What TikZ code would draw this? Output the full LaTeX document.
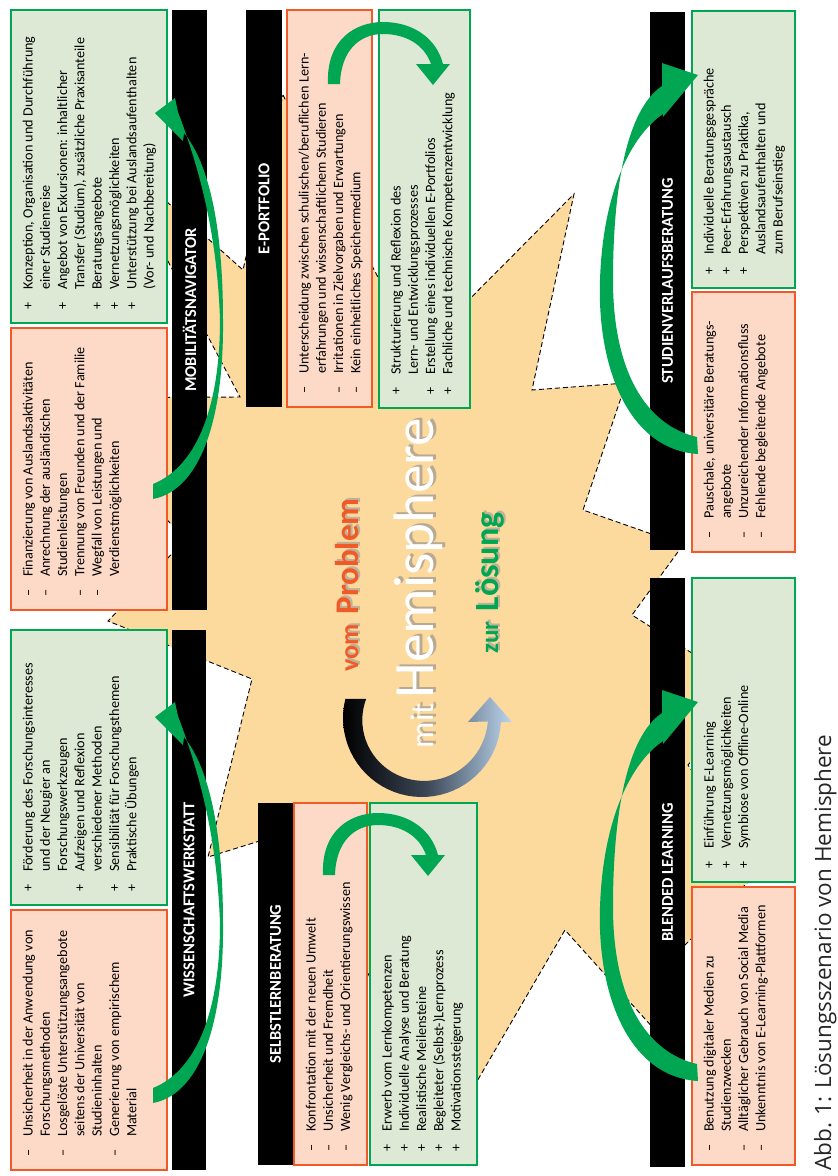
\documentclass[tikz,border=0pt]{standalone}
\usepackage{fontspec}
\setmainfont{Carlito}
\newfontfamily\capfont{Open Sans}

\definecolor{gruen}{RGB}{0,166,81}
\definecolor{gruenhell}{RGB}{221,233,213}
\definecolor{rot}{RGB}{240,90,40}
\definecolor{rothell}{RGB}{252,218,199}
\definecolor{sternfill}{RGB}{252,217,157}
\definecolor{pfeilblau}{RGB}{188,214,238}

% Listenpunkte in den Kaesten
\newcommand{\pitem}[1]{\makebox[20pt][l]{+}#1\\}
\newcommand{\mitem}[1]{\makebox[20pt][l]{--}#1\\}
\newcommand{\citem}[1]{\hspace*{20pt}#1\\}
\newcommand{\boxsize}{\fontsize{14.2}{17.3}\selectfont}

\begin{document}
\begin{tikzpicture}[x=1pt, y=-1pt,
  greenbox/.style={draw=gruen, fill=gruenhell, line width=2pt},
  redbox/.style={draw=rot, fill=rothell, line width=2pt},
  headbox/.style={fill=black},
  boxtext/.style={rotate=90, anchor=base west, inner sep=0pt, font=\boxsize},
  headtext/.style={rotate=90, text=white, inner sep=0pt, font=\fontsize{16.5}{16.5}\selectfont\bfseries},
  pfeil/.style={fill=gruen}]
\useasboundingbox (0,0) rectangle (838,1176);

% Stern im Hintergrund
\filldraw[fill=sternfill, draw=black, line width=0.9pt, dash pattern=on 5pt off 3pt]
  (283,95) -- (417,352) -- (574,194) -- (532,390) -- (626,383) -- (583,510)
  -- (683,545) -- (632,615) -- (750,690) -- (688,765) -- (760,870) -- (670,960)
  -- (655,1030) -- (565,930) -- (437,1150) -- (380,950) -- (300,1120) -- (295,830)
  -- (208,857) -- (252,679) -- (108,621) -- (185,540) -- (60,398) -- (240,397)
  -- (109,150) -- (243,270) -- cycle;

% Mobilitaetsnavigator
\draw[greenbox] (11,10) rectangle (167,323);
\draw[redbox] (11,328) rectangle (167,610);
\fill[headbox] (172,10) rectangle (207,610);
\node[headtext] (mhead) at (189.5,310) {MOBILITÄTSNAVIGATOR};
\node[boxtext] (mgtext) at (32.5,310) {\begin{tabular}[t]{@{}l@{}}
  \pitem{Konzeption, Organisation und Durchführung}
  \citem{einer Studienreise}
  \pitem{Angebot von Exkursionen: inhaltlicher}
  \citem{Transfer (Studium), zusätzliche Praxisanteile}
  \pitem{Beratungsangebote}
  \pitem{Vernetzungsmöglichkeiten}
  \pitem{Unterstützung bei Auslandsaufenthalten}
  \citem{(Vor- und Nachbereitung)}
\end{tabular}};
\node[boxtext] (mrtext) at (32.5,597) {\begin{tabular}[t]{@{}l@{}}
  \mitem{Finanzierung von Auslandsaktivitäten}
  \mitem{Anrechnung der ausländischen}
  \citem{Studienleistungen}
  \mitem{Trennung von Freunden und der Familie}
  \mitem{Wegfall von Leistungen und}
  \citem{Verdienstmöglichkeiten}
\end{tabular}};

% Wissenschaftswerkstatt
\draw[greenbox] (11,630) rectangle (167,905);
\draw[redbox] (11,910) rectangle (167,1170);
\fill[headbox] (172,630) rectangle (206,1170);
\node[headtext] (whead) at (189,900) {WISSENSCHAFTSWERKSTATT};
\node[boxtext] (wgtext) at (32.5,892) {\begin{tabular}[t]{@{}l@{}}
  \pitem{Förderung des Forschungsinteresses}
  \citem{und der Neugier an}
  \citem{Forschungswerkzeugen}
  \pitem{Aufzeigen und Reflexion}
  \citem{verschiedener Methoden}
  \pitem{Sensibilität für Forschungsthemen}
  \pitem{Praktische Übungen}
\end{tabular}};
\node[boxtext] (wrtext) at (32.5,1157) {\begin{tabular}[t]{@{}l@{}}
  \mitem{Unsicherheit in der Anwendung von}
  \citem{Forschungsmethoden}
  \mitem{Losgelöste Unterstützungsangebote}
  \citem{seitens der Universität von}
  \citem{Studieninhalten}
  \mitem{Generierung von empirischem}
  \citem{Material}
\end{tabular}};

% E-Portfolio
\fill[headbox] (246,10) rectangle (282,407);
\draw[redbox] (287,10) rectangle (372,407);
\draw[greenbox] (379,10) rectangle (470,408);
\node[headtext] (ehead) at (264,208.5) {E-PORTFOLIO};
\node[boxtext] (ertext) at (308.5,394) {\begin{tabular}[t]{@{}l@{}}
  \mitem{Unterscheidung zwischen schulischen/beruflichen Lern-}
  \citem{erfahrungen und wissenschaftlichem Studieren}
  \mitem{Irritationen in Zielvorgaben und Erwartungen}
  \mitem{Kein einheitliches Speichermedium}
\end{tabular}};
\node[boxtext] (egtext) at (400.5,395) {\begin{tabular}[t]{@{}l@{}}
  \pitem{Strukturierung und Reflexion des}
  \citem{Lern- und Entwicklungsprozesses}
  \pitem{Erstellung eines individuellen E-Portfolios}
  \pitem{Fachliche und technische Kompetenzentwicklung}
\end{tabular}};

% Selbstlernberatung
\fill[headbox] (258,803) rectangle (293,1165);
\draw[redbox] (294,803) rectangle (367,1165);
\draw[greenbox] (370,803) rectangle (477,1165);
\node[headtext] (shead) at (275.5,984) {SELBSTLERNBERATUNG};
\node[boxtext] (srtext) at (315.5,1152) {\begin{tabular}[t]{@{}l@{}}
  \mitem{Konfrontation mit der neuen Umwelt}
  \mitem{Unsicherheit und Fremdheit}
  \mitem{Wenig Vergleichs- und Orientierungswissen}
\end{tabular}};
\node[boxtext] (sgtext) at (391.5,1152) {\begin{tabular}[t]{@{}l@{}}
  \pitem{Erwerb vom Lernkompetenzen}
  \pitem{Individuelle Analyse und Beratung}
  \pitem{Realistische Meilensteine}
  \pitem{Begleiteter (Selbst-)Lernprozess}
  \pitem{Motivationssteigerung}
\end{tabular}};

% Studienverlaufsberatung
\fill[headbox] (650,12) rectangle (685,550);
\draw[greenbox] (692,11) rectangle (795,288);
\draw[redbox] (692,292) rectangle (795,552);
\node[headtext] (vhead) at (667.5,281) {STUDIENVERLAUFSBERATUNG};
\node[boxtext] (vgtext) at (713.5,275) {\begin{tabular}[t]{@{}l@{}}
  \pitem{Individuelle Beratungsgespräche}
  \pitem{Peer-Erfahrungsaustausch}
  \pitem{Perspektiven zu Praktika,}
  \citem{Auslandsaufenthalten und}
  \citem{zum Berufseinstieg}
\end{tabular}};
\node[boxtext] (vrtext) at (713.5,539) {\begin{tabular}[t]{@{}l@{}}
  \mitem{Pauschale, universitäre Beratungs-}
  \citem{angebote}
  \mitem{Unzureichender Informationsfluss}
  \mitem{Fehlende begleitende Angebote}
\end{tabular}};

% Blended Learning
\fill[headbox] (650,578) rectangle (685,1167);
\draw[greenbox] (692,578) rectangle (795,882);
\draw[redbox] (692,887) rectangle (795,1165);
\node[headtext] (bhead) at (667.5,872.5) {BLENDED LEARNING};
\node[boxtext] (bgtext) at (713.5,869) {\begin{tabular}[t]{@{}l@{}}
  \pitem{Einführung E-Learning}
  \pitem{Vernetzungsmöglichkeiten}
  \pitem{Symbiose von Offline-Online}
\end{tabular}};
\node[boxtext] (brtext) at (713.5,1152) {\begin{tabular}[t]{@{}l@{}}
  \mitem{Benutzung digitaler Medien zu}
  \citem{Studienzwecken}
  \mitem{Alltäglicher Gebrauch von Social Media}
  \mitem{Unkenntnis von E-Learning-Plattformen}
\end{tabular}};

% gruene Pfeile links (Mobilitaet, Wissenschaft)
\foreach \dy in {0,604}{
  \fill[pfeil, shift={(0,\dy)}] (153,499) .. controls (200,490) and (224,420) .. (223,320)
    .. controls (223,230) and (210,165) .. (184,133) -- (183,141) -- (155,113) -- (175,98)
    -- (178,112) .. controls (198,165) and (217,230) .. (220,320)
    .. controls (220,400) and (200,465) .. (153,484) -- cycle;
}
% gruene Pfeile rechts (Studienverlauf, Blended Learning)
\foreach \dy in {0,627}{
  \fill[pfeil, shift={(0,\dy)}] (698,454) .. controls (630,450) and (597,370) .. (600,280)
    .. controls (603,190) and (632,135) .. (663,114) -- (663,117) -- (698,75) -- (662,63)
    -- (662,86) .. controls (626,110) and (613,190) .. (613,280)
    .. controls (613,370) and (645,425) .. (697,437) -- cycle;
}
% kleine Bogenpfeile (E-Portfolio, Selbstlernberatung)
\foreach \dx/\dy in {0/0,-5/791}{
  \fill[pfeil, shift={(\dx,\dy)}] (328,84) .. controls (326,40) and (355,22) .. (383,22)
    .. controls (415,22) and (437,40) .. (443,64) -- (450,64) -- (433,85) -- (416,64)
    -- (431,64) .. controls (424,44) and (405,34) .. (383,34)
    .. controls (360,34) and (341,50) .. (340,84) -- cycle;
}

% Bogen in der Mitte
\shade[left color=black, right color=pfeilblau, middle color={rgb,255:red,60;green,72;blue,88}]
  plot[domain=194:3, samples=40] ({422+79*cos(\x)},{718+79*sin(\x)})
  -- (512,722) -- (490,697) -- (468,722)
  -- plot[domain=3:199, samples=40] ({422+(66-7*(\x-3)/196)*cos(\x)},{718+(66-7*(\x-3)/196)*sin(\x)})
  -- cycle;

% Schriftzug
\node[rotate=90, anchor=base, inner sep=0pt, text=black!40, opacity=0.6] (problemshadow) at (360,583)
  {\fontsize{26}{26}\selectfont\bfseries vom\hspace{10pt}\fontsize{33}{33}\selectfont Problem};
\node[rotate=90, anchor=base, inner sep=0pt, text=rot] (problem) at (358,585)
  {\fontsize{26}{26}\selectfont\bfseries vom\hspace{10pt}\fontsize{33}{33}\selectfont Problem};
\node[rotate=90, anchor=base, inner sep=0pt, text=black!45, opacity=0.6] (hemishadow) at (436,581)
  {\fontsize{33}{33}\selectfont mit\hspace{5pt}\fontsize{57}{57}\selectfont Hemisphere};
\node[rotate=90, anchor=base, inner sep=0pt, text=white] (hemi) at (433,583)
  {\fontsize{33}{33}\selectfont mit\hspace{5pt}\fontsize{57}{57}\selectfont Hemisphere};
\node[rotate=90, anchor=base, inner sep=0pt, text=black!40, opacity=0.6] (loesungshadow) at (500,581)
  {\fontsize{25}{25}\selectfont\bfseries zur\hspace{10pt}\fontsize{34}{34}\selectfont Lösung};
\node[rotate=90, anchor=base, inner sep=0pt, text=gruen] (loesung) at (498,583)
  {\fontsize{25}{25}\selectfont\bfseries zur\hspace{10pt}\fontsize{34}{34}\selectfont Lösung};

% Bildunterschrift
\node[rotate=90, anchor=base west, inner sep=0pt, text=black!85] (caption) at (831,1171)
  {\capfont\fontsize{22.5}{22.5}\selectfont Abb. 1: Lösungsszenario von Hemisphere};
\end{tikzpicture}
\end{document}
